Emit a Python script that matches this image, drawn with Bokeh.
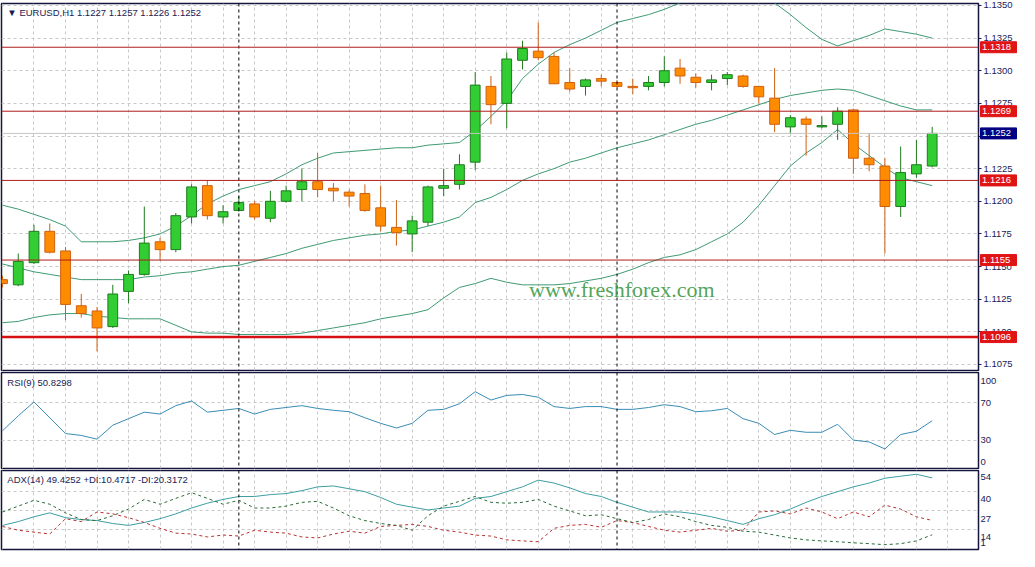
from bokeh.plotting import figure
from bokeh.models import Range1d, FixedTicker, PrintfTickFormatter, Span, Label, ColumnDataSource
from bokeh.core.properties import value
from bokeh.layouts import column, row
from bokeh.embed import file_html
from bokeh.resources import INLINE

# ---------------- data ----------------
opens = [1.1140, 1.1136, 1.1153, 1.1177, 1.1162, 1.1120, 1.1116, 1.1104, 1.1131, 1.1144,
         1.1169, 1.1163, 1.1188, 1.1212, 1.1188, 1.1193, 1.1198, 1.1187, 1.1200, 1.1209,
         1.1215, 1.1210, 1.1207, 1.1206, 1.1195, 1.1180, 1.1175, 1.1184, 1.1210, 1.1213,
         1.1230, 1.1288, 1.1275, 1.1308, 1.1315, 1.1311, 1.1291, 1.1288, 1.1294, 1.1291,
         1.1288, 1.1288, 1.1291, 1.1302, 1.1295, 1.1291, 1.1294, 1.1296, 1.1288, 1.1279,
         1.1257, 1.1263, 1.1257, 1.1259, 1.1270, 1.1233, 1.1227, 1.1196, 1.1221, 1.1227]
highs = [1.1143, 1.1160, 1.1182, 1.1183, 1.1165, 1.1129, 1.1119, 1.1136, 1.1147, 1.1196,
         1.1172, 1.1191, 1.1213, 1.1216, 1.1197, 1.1204, 1.1200, 1.1208, 1.1212, 1.1225,
         1.1237, 1.1214, 1.1209, 1.1213, 1.1212, 1.1201, 1.1189, 1.1212, 1.1225, 1.1236,
         1.1299, 1.1296, 1.1314, 1.1323, 1.1337, 1.1314, 1.1302, 1.1294, 1.1297, 1.1293,
         1.1294, 1.1296, 1.1311, 1.1309, 1.1298, 1.1297, 1.1299, 1.1297, 1.1288, 1.1302,
         1.1266, 1.1265, 1.1265, 1.1272, 1.1271, 1.1252, 1.1233, 1.1242, 1.1247, 1.1257]
lows = [1.1134, 1.1135, 1.1152, 1.1160, 1.1109, 1.1111, 1.1085, 1.1103, 1.1122, 1.1143,
        1.1155, 1.1161, 1.1183, 1.1186, 1.1183, 1.1192, 1.1186, 1.1184, 1.1199, 1.1200,
        1.1203, 1.1200, 1.1196, 1.1192, 1.1177, 1.1166, 1.1161, 1.1181, 1.1204, 1.1209,
        1.1224, 1.1259, 1.1256, 1.1301, 1.1308, 1.1290, 1.1284, 1.1281, 1.1288, 1.1287,
        1.1282, 1.1285, 1.1288, 1.1290, 1.1287, 1.1285, 1.1289, 1.1287, 1.1275, 1.1253,
        1.1252, 1.1235, 1.1256, 1.1247, 1.1221, 1.1223, 1.1160, 1.1188, 1.1218, 1.1226]
closes = [1.1137, 1.1154, 1.1177, 1.1161, 1.1121, 1.1114, 1.1103, 1.1129, 1.1144, 1.1168,
          1.1163, 1.1189, 1.1211, 1.1189, 1.1192, 1.1199, 1.1188, 1.1200, 1.1208, 1.1215,
          1.1209, 1.1208, 1.1204, 1.1193, 1.1181, 1.1176, 1.1185, 1.1211, 1.1212, 1.1228,
          1.1289, 1.1274, 1.1309, 1.1317, 1.1310, 1.1290, 1.1286, 1.1293, 1.1292, 1.1288,
          1.1287, 1.1291, 1.1300, 1.1296, 1.1291, 1.1293, 1.1297, 1.1288, 1.1280, 1.1259,
          1.1264, 1.1259, 1.1258, 1.1269, 1.1233, 1.1228, 1.1196, 1.1222, 1.1228, 1.1252]

bb_upper = [1.1197, 1.1194, 1.1190, 1.1186, 1.1181, 1.1169, 1.1169, 1.1169, 1.1170, 1.1172,
            1.1175, 1.1181, 1.1189, 1.1198, 1.1204, 1.1209, 1.1212, 1.1215, 1.1221, 1.1228,
            1.1233, 1.1237, 1.1238, 1.1239, 1.1240, 1.1241, 1.1241, 1.1243, 1.1244, 1.1245,
            1.1254, 1.1265, 1.1277, 1.1294, 1.1305, 1.1314, 1.1320, 1.1325, 1.1331, 1.1337,
            1.1340, 1.1343, 1.1347, 1.1352, 1.1356, 1.1359, 1.1360, 1.1360, 1.1357, 1.1352,
            1.1343, 1.1333, 1.1324, 1.1319, 1.1323, 1.1327, 1.1332, 1.1330, 1.1328, 1.1325]
bb_middle = [1.1152, 1.1149, 1.1146, 1.1144, 1.1142, 1.1140, 1.1140, 1.1140, 1.1140, 1.1142,
             1.1143, 1.1145, 1.1146, 1.1148, 1.1150, 1.1151, 1.1154, 1.1157, 1.1160, 1.1164,
             1.1167, 1.1170, 1.1172, 1.1174, 1.1175, 1.1177, 1.1178, 1.1181, 1.1184, 1.1188,
             1.1199, 1.1203, 1.1209, 1.1216, 1.1221, 1.1225, 1.1230, 1.1233, 1.1237, 1.1241,
             1.1244, 1.1247, 1.1251, 1.1255, 1.1259, 1.1262, 1.1266, 1.1270, 1.1274, 1.1278,
             1.1281, 1.1283, 1.1285, 1.1286, 1.1285, 1.1281, 1.1277, 1.1273, 1.1270, 1.1270]
bb_lower = [1.1107, 1.1108, 1.1111, 1.1113, 1.1114, 1.1114, 1.1112, 1.1111, 1.1110, 1.1110,
            1.1110, 1.1105, 1.1100, 1.1099, 1.1099, 1.1098, 1.1098, 1.1098, 1.1098, 1.1099,
            1.1101, 1.1103, 1.1105, 1.1107, 1.1110, 1.1112, 1.1114, 1.1117, 1.1126, 1.1134,
            1.1137, 1.1141, 1.1138, 1.1136, 1.1136, 1.1136, 1.1137, 1.1139, 1.1141, 1.1144,
            1.1148, 1.1153, 1.1157, 1.1159, 1.1163, 1.1169, 1.1175, 1.1184, 1.1197, 1.1212,
            1.1227, 1.1237, 1.1245, 1.1255, 1.1244, 1.1235, 1.1226, 1.1218, 1.1215, 1.1212]

rsi = [40, 56, 71, 54, 37, 35, 31, 46, 53, 60,
       58, 67, 72, 60, 62, 64, 58, 63, 65, 67,
       64, 62, 60.5, 54, 48, 43, 48, 62, 63, 69,
       82, 73, 78, 79, 76, 66, 64, 66, 66, 63,
       63, 65, 68, 66, 60.5, 61.5, 64, 53, 48, 36,
       40.5, 38.4, 38.4, 47, 30, 28, 20.5, 36, 39.5, 50.83]

adx = [16.9, 19.5, 22.8, 25.5, 22.2, 20.9, 20.2, 18.2, 16.9, 18.9,
       21.5, 24.8, 28.8, 32.1, 34.7, 36.7, 36.7, 38.0, 38.7, 40.7,
       43.3, 43.9, 42.0, 40.0, 36.0, 31.4, 29.4, 27.5, 28.8, 30.1,
       35.4, 36.7, 40.0, 43.3, 47.9, 45.9, 42.6, 38.7, 36.7, 32.7,
       29.4, 26.1, 26.1, 26.1, 24.8, 22.8, 20.2, 17.6, 21.5, 24.2,
       28.1, 32.7, 36.7, 40.0, 43.3, 45.9, 49.2, 50.6, 51.9, 49.43]
plus_di = [26.1, 30.1, 34.1, 31.4, 25.5, 20.9, 20.2, 23.5, 28.1, 34.7,
           31.4, 35.4, 39.3, 35.4, 31.4, 34.1, 28.8, 28.8, 30.1, 32.7,
           33.4, 28.8, 23.5, 20.2, 18.2, 16.9, 13.6, 23.5, 30.1, 33.4,
           36.7, 32.7, 32.1, 32.7, 34.7, 30.1, 26.8, 23.5, 24.2, 21.5,
           18.9, 20.9, 24.8, 22.8, 19.5, 16.9, 15.6, 12.9, 12.3, 10.3,
           8.3, 7.0, 6.3, 5.7, 5.0, 4.4, 3.7, 4.4, 6.3, 10.47]
minus_di = [16.2, 13.6, 12.3, 11.0, 21.5, 19.5, 26.1, 24.8, 22.2, 18.9,
            14.9, 11.6, 11.0, 9.0, 10.3, 9.6, 13.6, 12.3, 11.6, 9.0,
            8.3, 11.0, 12.9, 11.6, 16.2, 16.9, 17.6, 16.2, 13.6, 12.3,
            10.3, 9.6, 7.0, 6.3, 5.7, 14.9, 16.9, 17.6, 15.6, 20.2,
            18.9, 16.2, 13.6, 12.3, 13.6, 14.9, 12.9, 13.6, 26.1, 26.8,
            24.8, 28.8, 26.1, 21.5, 26.1, 22.8, 30.8, 28.1, 22.8, 20.32]

level_lines = [1.1318, 1.1269, 1.1216, 1.1155]
strong_level = 1.1096
bid_price = 1.1252
separators = [15, 39]

price_ticks = [1.1075, 1.1100, 1.1125, 1.1150, 1.1175, 1.1200, 1.1225,
               1.1250, 1.1275, 1.1300, 1.1325, 1.1350]
rsi_grid = [30, 70]
rsi_tick_pos = [93, 70, 30, 7]
rsi_tick_text = ["100", "70", "30", "0"]
adx_grid = [14, 27, 40]
adx_tick_pos = [50, 35, 21, 9, 5]
adx_tick_text = ["54", "40", "27", "14", "1"]

header_main = "\u25BC  EURUSD,H1  1.1227 1.1257 1.1226 1.1252"
header_rsi = "RSI(9) 50.8298"
header_adx = "ADX(14) 49.4252 +DI:10.4717 -DI:20.3172"
watermark = "www.freshforex.com"

# ---------------- style ----------------
W = 1019
STRIP = 41
FONT = "Liberation Sans"
FS = "9.5px"
NAVY = "#1a1a55"
FRAME = "#14143c"
GRID = "#c8c8c8"
BB = "#3f9a72"
BULL_FILL, BULL_LINE = "#32cd32", "#1f7a1f"
BEAR_FILL, BEAR_LINE = "#ff8c00", "#cf6010"
TAG_RED, TAG_NAVY = "#e01414", "#000080"

n = len(opens)
xs = list(range(n))
xr = Range1d(-0.0625, 61.94)
main_yr = Range1d(1.10704, 1.13515)


def make_fig(height, yr, top, bottom):
    p = figure(width=W, height=height, x_range=xr, y_range=yr,
               output_backend="svg", toolbar_location=None,
               min_border_left=1, min_border_right=STRIP,
               min_border_top=top, min_border_bottom=bottom,
               y_axis_location="right", x_axis_location=None)
    p.background_fill_color = "white"
    p.border_fill_color = "white"
    p.outline_line_color = FRAME
    p.outline_line_width = 1.5
    p.xgrid.ticker = FixedTicker(ticks=list(range(0, 62, 2)))
    p.xgrid.grid_line_color = GRID
    p.xgrid.grid_line_dash = "3 3"
    p.ygrid.grid_line_color = GRID
    p.ygrid.grid_line_dash = "3 3"
    ax = p.yaxis[0]
    ax.axis_line_color = FRAME
    ax.major_tick_line_color = NAVY
    ax.major_tick_out = 3
    ax.major_tick_in = 0
    ax.minor_tick_out = 0
    ax.minor_tick_in = 0
    ax.major_label_standoff = 2
    ax.major_label_text_font = FONT
    ax.major_label_text_font_size = FS
    ax.major_label_text_color = NAVY
    for s in separators:
        p.add_layout(Span(location=s, dimension="height", line_color="black",
                          line_dash="3 3", line_width=1))
    return p


# ---------------- main price panel ----------------
p1 = make_fig(371, main_yr, 3, 1)
p1.yaxis[0].ticker = FixedTicker(ticks=price_ticks)
p1.yaxis[0].formatter = PrintfTickFormatter(format="%.4f")
p1.ygrid.ticker = FixedTicker(ticks=price_ticks)

bull = [c >= o for o, c in zip(opens, closes)]
src = ColumnDataSource(dict(
    x=xs, high=highs, low=lows,
    top=[max(o, c) for o, c in zip(opens, closes)],
    bottom=[min(o, c) for o, c in zip(opens, closes)],
    fill=[BULL_FILL if b else BEAR_FILL for b in bull],
    line=[BULL_LINE if b else BEAR_LINE for b in bull],
))

p1.add_layout(Span(location=bid_price, dimension="width", line_color="#c4c4c4", line_width=1))
for lv in level_lines:
    p1.add_layout(Span(location=lv, dimension="width", line_color="#b01c1c", line_width=1))
p1.add_layout(Span(location=strong_level, dimension="width", line_color="#d41010", line_width=2.5))

p1.line(xs, bb_upper, line_color=BB, line_width=1)
p1.line(xs, bb_middle, line_color=BB, line_width=1)
p1.line(xs, bb_lower, line_color=BB, line_width=1)

p1.segment(x0="x", y0="high", x1="x", y1="low", line_color="line", line_width=1, source=src)
p1.vbar(x="x", width=0.62, top="top", bottom="bottom", fill_color="fill",
        line_color="line", line_width=1, source=src)

p1.add_layout(Label(x=0.31, y=1.13448, text=header_main, text_font=FONT, text_font_size=FS,
                    text_color=NAVY, text_baseline="middle", text_align="left"))
p1.add_layout(Label(x=39.3, y=1.11321, text=watermark, text_font="Liberation Serif",
                    text_font_size="22px", text_color="#3a9a44", text_alpha=0.9,
                    text_align="center", text_baseline="middle"))

# ---------------- price tags: transparent strip laid over the axis ----------------
tag_levels = level_lines + [strong_level, bid_price]
tag_colors = [TAG_RED] * (len(level_lines) + 1) + [TAG_NAVY]
tags = figure(width=STRIP, height=371, x_range=Range1d(0, STRIP), y_range=main_yr,
              output_backend="svg", toolbar_location=None,
              min_border_left=0, min_border_right=0, min_border_top=3, min_border_bottom=1,
              x_axis_location=None, y_axis_location=None, margin=(0, 0, 0, -STRIP))
tags.background_fill_alpha = 0
tags.border_fill_alpha = 0
tags.outline_line_color = None
tags.xgrid.visible = False
tags.ygrid.visible = False
tsrc = ColumnDataSource(dict(y=tag_levels, text=["%.4f" % v for v in tag_levels],
                             color=tag_colors))
tags.rect(x=20, y="y", width=36, height=11, height_units="screen",
          fill_color="color", line_color="color", source=tsrc)
tags.text(x=3.5, y="y", text="text", text_font=value(FONT), text_font_size=FS,
          text_color="white", text_baseline="middle", text_align="left", source=tsrc)

# ---------------- RSI panel ----------------
p2 = make_fig(98, Range1d(-0.5, 102.6), 1, 1)
p2.yaxis[0].ticker = FixedTicker(ticks=rsi_tick_pos)
p2.yaxis[0].major_label_overrides = {t: s for t, s in zip(rsi_tick_pos, rsi_tick_text)}
p2.yaxis[0].major_tick_out = 0
p2.ygrid.ticker = FixedTicker(ticks=rsi_grid)
p2.line(xs, rsi, line_color="#3a8cb4", line_width=1)
p2.add_layout(Label(x=0.31, y=92, text=header_rsi, text_font=FONT, text_font_size=FS,
                    text_color=NAVY, text_baseline="middle", text_align="left"))

# ---------------- ADX panel ----------------
p3 = make_fig(82, Range1d(0.4, 54.5), 1, 2)
p3.yaxis[0].ticker = FixedTicker(ticks=adx_tick_pos)
p3.yaxis[0].major_label_overrides = {t: s for t, s in zip(adx_tick_pos, adx_tick_text)}
p3.yaxis[0].major_tick_out = 0
p3.ygrid.ticker = FixedTicker(ticks=adx_grid)
p3.line(xs, adx, line_color="#3d9ea3", line_width=1)
p3.line(xs, plus_di, line_color="#2a6a36", line_width=1, line_dash="3 3")
p3.line(xs, minus_di, line_color="#b83030", line_width=1, line_dash="3 3")
p3.add_layout(Label(x=0.31, y=48.6, text=header_adx, text_font=FONT, text_font_size=FS,
                    text_color=NAVY, text_baseline="middle", text_align="left"))

layout = column(row(p1, tags, spacing=0), p2, p3, spacing=0)
open("out.html", "w").write(file_html(layout, INLINE))
